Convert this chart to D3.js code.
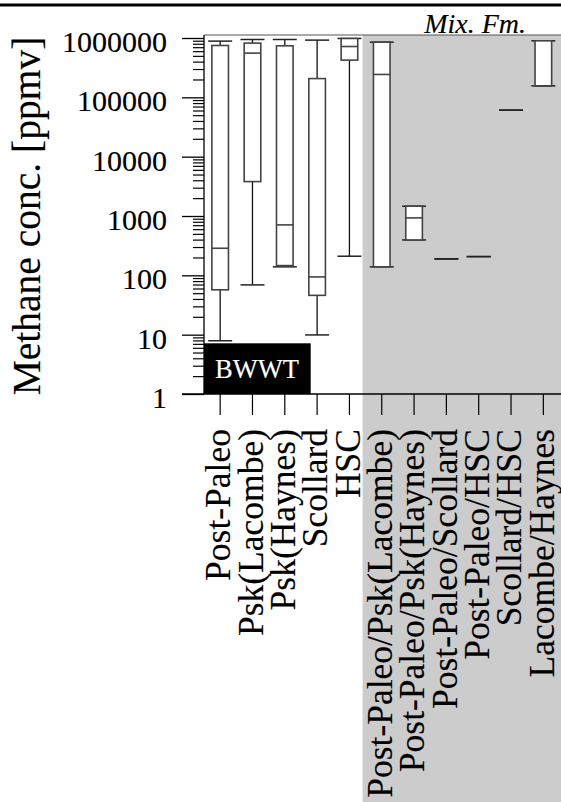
<!DOCTYPE html>
<html><head><meta charset="utf-8">
<script src="https://cdn.jsdelivr.net/npm/d3@7"></script>
<style>
html,body{margin:0;padding:0;background:#fff;}
svg{display:block;}
</style></head>
<body>
<svg id="chart" width="561" height="802"></svg>
<script>
const categories = ["Post-Paleo","Psk(Lacombe)","Psk(Haynes)","Scollard","HSC",
  "Post-Paleo/Psk(Lacombe)","Post-Paleo/Psk(Haynes)","Post-Paleo/Scollard","Post-Paleo/HSC","Scollard/HSC","Lacombe/Haynes"];
const whiskerLow  = [7.9, 69, 139, 9.9, 210, 139, 395, 189, 207, 60800, 156000];
const q1          = [57, 3800, 146, 46, 424000, 139, 395, 189, 207, 60800, 156000];
const median      = [286, 556000, 708, 94, 719000, 243000, 929, 189, 207, 60800, 156000];
const q3          = [748000, 820000, 738000, 207000, 982000, 851000, 1463, 189, 207, 60800, 897000];
const whiskerHigh = [886000, 944000, 944000, 921000, 982000, 851000, 1463, 189, 207, 60800, 897000];
const majorTicks = [1, 10, 100, 1000, 10000, 100000, 1000000];
const majorTickLabels = ["1","10","100","1000","10000","100000","1000000"];
const mixedStartIndex = 5;

const FONT = "'Liberation Serif', Tinos, 'Times New Roman', Times, 'DejaVu Serif', serif";
const svg = d3.select("#chart");
const W = 561, H = 802;
const pLeft = 204, pRight = 559.5, pTop = 35, pBottom = 394;

const y = d3.scaleLog().domain([1, 1e6]).range([pBottom, 38]);
const x = d3.scaleBand().domain(categories).range([pLeft, pRight]).padding(0);
const cx = c => x(c) + x.bandwidth() / 2;

function heavy(sel, color) {
  return sel.style("stroke", color).style("stroke-width", "0.15px");
}

svg.append("line").attr("x1", 0).attr("x2", W).attr("y1", 5).attr("y2", 5)
  .attr("stroke", "#000").attr("stroke-width", 3);

const gx = x(categories[mixedStartIndex]) - 3;
svg.append("rect").attr("x", gx).attr("y", pTop).attr("width", W - gx).attr("height", H - pTop)
  .attr("fill", "#cccccc");

svg.append("line").attr("x1", pLeft).attr("x2", W).attr("y1", pTop).attr("y2", pTop)
  .attr("stroke", "#555").attr("stroke-width", 1.2);

heavy(svg.append("text").attr("x", 526).attr("y", 33).attr("text-anchor", "end")
  .style("font-family", FONT).style("font-style", "italic").style("font-size", "28px")
  .style("fill", "#000").text("Mix. Fm."), "#000");

const boxW = 16.6, capW = 24;
const g = svg.append("g");
categories.forEach((c, i) => {
  const xc = cx(c);
  const gg = g.append("g");
  gg.append("line").attr("x1", xc).attr("x2", xc).attr("y1", y(whiskerLow[i])).attr("y2", y(q1[i]))
    .attr("stroke", "#111").attr("stroke-width", 1.3);
  gg.append("line").attr("x1", xc).attr("x2", xc).attr("y1", y(q3[i])).attr("y2", y(whiskerHigh[i]))
    .attr("stroke", "#111").attr("stroke-width", 1.3);
  [whiskerLow[i], whiskerHigh[i]].forEach(v => {
    gg.append("line").attr("x1", xc - capW / 2).attr("x2", xc + capW / 2)
      .attr("y1", y(v)).attr("y2", y(v)).attr("stroke", "#222").attr("stroke-width", 1.5);
  });
  if (q3[i] > q1[i]) {
    gg.append("rect").attr("x", xc - boxW / 2).attr("y", y(q3[i]))
      .attr("width", boxW).attr("height", y(q1[i]) - y(q3[i]))
      .attr("fill", "#fff").attr("stroke", "#444").attr("stroke-width", 1.6);
    gg.append("line").attr("x1", xc - boxW / 2).attr("x2", xc + boxW / 2)
      .attr("y1", y(median[i])).attr("y2", y(median[i]))
      .attr("stroke", "#444").attr("stroke-width", 1.6);
  }
});

svg.append("rect").attr("x", pLeft).attr("y", 343.3).attr("width", 106.7).attr("height", pBottom - 343.3)
  .attr("fill", "#000");
heavy(svg.append("text").attr("x", 215).attr("y", 378.3)
  .style("font-family", FONT).style("font-size", "26.5px").style("fill", "#fff").text("BWWT"), "#fff");

const minor = [];
for (let e = 0; e < 6; e++) for (let k = 2; k <= 9; k++) minor.push(k * Math.pow(10, e));
svg.append("g").attr("transform", `translate(${pLeft},0)`)
  .call(d3.axisLeft(y).tickValues(minor).tickSize(11).tickSizeOuter(0).tickFormat(""))
  .call(a => a.select(".domain").remove())
  .call(a => a.selectAll("line").attr("stroke", "#000").attr("stroke-width", 1.2));

const yAxis = svg.append("g").attr("transform", `translate(${pLeft},0)`)
  .call(d3.axisLeft(y).tickValues(majorTicks).tickSize(22).tickSizeOuter(0).tickPadding(15)
    .tickFormat((d, i) => majorTickLabels[i]));
yAxis.select(".domain").remove();
yAxis.selectAll("line").attr("stroke", "#000").attr("stroke-width", 1.3);
heavy(yAxis.selectAll("text").attr("dy", "0.45em")
  .style("font-family", FONT).style("font-size", "30px").style("fill", "#000"), "#000");
svg.append("line").attr("x1", pLeft).attr("x2", pLeft).attr("y1", pTop).attr("y2", pBottom)
  .attr("stroke", "#000").attr("stroke-width", 1.3);

svg.append("line").attr("x1", 182).attr("x2", W).attr("y1", pBottom).attr("y2", pBottom)
  .attr("stroke", "#000").attr("stroke-width", 1.3);
const xAxis = svg.append("g").attr("transform", `translate(0,${pBottom})`)
  .call(d3.axisBottom(x).tickSize(21).tickSizeOuter(0));
xAxis.select(".domain").remove();
xAxis.selectAll("line").attr("stroke", "#000").attr("stroke-width", 1.2);
heavy(xAxis.selectAll("text")
  .style("font-family", FONT).style("font-size", "35.5px").style("fill", "#000")
  .attr("text-anchor", "end").attr("x", 0).attr("y", 0).attr("dy", "0.29em")
  .attr("transform", "translate(0,35) rotate(-90)"), "#000");

heavy(svg.append("text").attr("transform", "translate(40,216) rotate(-90)")
  .attr("text-anchor", "middle")
  .style("font-family", FONT).style("font-size", "39.5px").style("fill", "#000")
  .text("Methane conc. [ppmv]"), "#000");
</script>
</body></html>
